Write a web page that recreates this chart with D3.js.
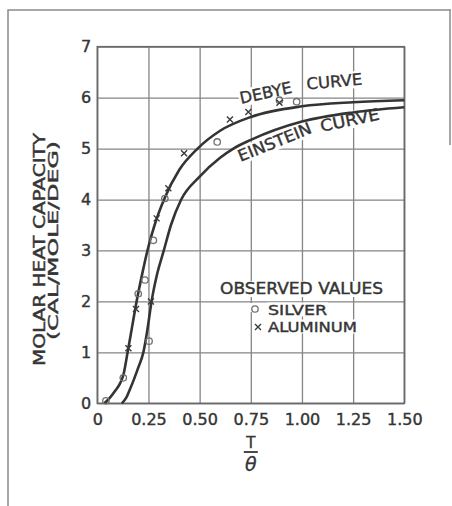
<!DOCTYPE html>
<html>
<head>
<meta charset="utf-8">
<script src="https://cdn.jsdelivr.net/npm/d3@7"></script>
<style>
  body { margin: 0; background: #fff; }
  text { font-family: "DejaVu Sans", sans-serif; fill: #353535; }
</style>
</head>
<body>
<script>
// Molar heat capacity vs T/theta, Debye and Einstein curves

// curves
var debyeT = [0.035, 0.06, 0.09, 0.11, 0.127, 0.148, 0.17, 0.192, 0.22, 0.245, 0.28, 0.326, 0.40, 0.49, 0.60, 0.75, 1.00, 1.25, 1.50];
var debyeC = [0.0, 0.1, 0.26, 0.38, 0.55, 1.0, 1.5, 2.0, 2.55, 3.0, 3.5, 4.0, 4.58, 5.0, 5.35, 5.62, 5.83, 5.91, 5.95];

var einsteinT = [0.12, 0.14, 0.16, 0.18, 0.20, 0.225, 0.245, 0.265, 0.29, 0.325, 0.36, 0.41, 0.50, 0.60, 0.665, 0.75, 1.00, 1.25, 1.50];
var einsteinC = [0.0, 0.1, 0.28, 0.48, 0.7, 1.0, 1.45, 2.0, 2.5, 3.0, 3.5, 4.0, 4.45, 4.82, 5.0, 5.17, 5.53, 5.71, 5.81];

// observed values
var silverT = [0.042, 0.127, 0.2, 0.233, 0.253, 0.274, 0.33, 0.586, 0.89, 0.974];
var silverC = [0.05, 0.5, 2.15, 2.42, 1.22, 3.2, 4.02, 5.13, 5.95, 5.92];

var aluminumT = [0.152, 0.189, 0.262, 0.29, 0.347, 0.424, 0.648, 0.738, 0.89];
var aluminumC = [1.08, 1.85, 2.0, 3.63, 4.22, 4.91, 5.57, 5.72, 5.9];

var xTicks = [0, 0.25, 0.5, 0.75, 1.0, 1.25, 1.5];
var xTickLabels = ['0', '0.25', '0.50', '0.75', '1.00', '1.25', '1.50'];
var yTicks = [0, 1, 2, 3, 4, 5, 6, 7];

var width = 452;
var height = 506;
var plotLeft = 97.3, plotRight = 404.3, plotTop = 46.7, plotBottom = 403.3;
var ink = '#353535';

var svg = d3.select('body').append('svg')
    .attr('width', width)
    .attr('height', height);

svg.append('rect').attr('width', width).attr('height', height).attr('fill', '#fff');

// page frame
var frame = svg.append('g').attr('stroke', '#8a8a8a').attr('stroke-width', 1.5).attr('fill', 'none');
frame.append('path').attr('d', 'M8,506 L8,10 L451,10');
frame.append('line').attr('x1', 450).attr('y1', 10).attr('x2', 450).attr('y2', 145);

var x = d3.scaleLinear().domain([0, 1.5]).range([plotLeft, plotRight]);
var y = d3.scaleLinear().domain([0, 7]).range([plotBottom, plotTop]);

var xAxis = svg.append('g')
    .attr('transform', 'translate(0,' + plotBottom + ')')
    .call(d3.axisBottom(x).tickValues(xTicks)
        .tickFormat(function(d, i){ return xTickLabels[i]; })
        .tickSize(-(plotBottom - plotTop)).tickPadding(10));

var yAxis = svg.append('g')
    .attr('transform', 'translate(' + plotLeft + ',0)')
    .call(d3.axisLeft(y).tickValues(yTicks)
        .tickFormat(d3.format('d'))
        .tickSize(-(plotRight - plotLeft)).tickPadding(6));

[xAxis, yAxis].forEach(function(ax){
    ax.select('.domain').remove();
    ax.selectAll('line').attr('stroke', '#858585').attr('stroke-width', 1.3);
    ax.selectAll('text')
        .style('font-family', '"DejaVu Sans", sans-serif')
        .style('font-size', '16px')
        .attr('fill', ink)
        .attr('stroke', ink)
        .attr('stroke-width', 0.4);
});

svg.append('rect')
    .attr('x', plotLeft).attr('y', plotTop)
    .attr('width', plotRight - plotLeft).attr('height', plotBottom - plotTop)
    .attr('fill', 'none')
    .attr('stroke', '#6a6a6a')
    .attr('stroke-width', 1.6);

// text with a white patch behind it, so the grid breaks like in the original
function patchText(g, txt, px, py, len, size, pad){
    var bg = g.append('rect').attr('fill', '#fff');
    var t = g.append('text')
        .attr('x', px).attr('y', py)
        .attr('textLength', len)
        .attr('lengthAdjust', 'spacingAndGlyphs')
        .style('font-size', size + 'px')
        .attr('stroke', ink).attr('stroke-width', 0.4)
        .text(txt);
    var b = t.node().getBBox();
    bg.attr('x', b.x - pad).attr('y', b.y + 2 - pad)
      .attr('width', b.width + 2 * pad).attr('height', b.height - 4 + 2 * pad);
    return t;
}

// curve labels
function label(txt, t, c, angle, len){
    var g = svg.append('g')
        .attr('transform', 'translate(' + x(t) + ',' + y(c) + ') rotate(' + angle + ')');
    patchText(g, txt, 0, 0, len, 16, 1);
}

label('DEBYE', 0.702, 5.88, -12, 53);
label('CURVE', 1.024, 6.16, -5, 56);
label('EINSTEIN', 0.70, 4.74, -22, 78);
label('CURVE', 1.096, 5.33, -12, 60);

// curves
var line = d3.line()
    .x(function(d){ return x(d[0]); })
    .y(function(d){ return y(d[1]); })
    .curve(d3.curveMonotoneX);

var curves = [d3.zip(debyeT, debyeC), d3.zip(einsteinT, einsteinC)];
svg.selectAll('path.curve').data(curves).enter().append('path')
    .attr('class', 'curve')
    .attr('d', line)
    .attr('fill', 'none')
    .attr('stroke', '#343434')
    .attr('stroke-width', 2.6);

// markers
function drawCircle(g, px, py){
    g.append('circle').attr('cx', px).attr('cy', py).attr('r', 3.2)
        .attr('fill', 'none').attr('stroke', '#707070').attr('stroke-width', 1.3);
}
function drawCross(g, px, py){
    var s = 3;
    g.append('path')
        .attr('d', 'M' + (px - s) + ',' + (py - s) + 'L' + (px + s) + ',' + (py + s) +
                   'M' + (px + s) + ',' + (py - s) + 'L' + (px - s) + ',' + (py + s))
        .attr('stroke', '#3a3a3a').attr('stroke-width', 1.4);
}

var marks = svg.append('g');
d3.zip(silverT, silverC).forEach(function(d){ drawCircle(marks, x(d[0]), y(d[1])); });
d3.zip(aluminumT, aluminumC).forEach(function(d){ drawCross(marks, x(d[0]), y(d[1])); });

// legend
var lg = svg.append('g');
patchText(lg, 'OBSERVED VALUES', 220, 294, 163, 15, 1);
patchText(lg, 'SILVER', 268, 314.5, 59, 14, 1);
patchText(lg, 'ALUMINUM', 268, 331.5, 89, 14, 1);
lg.append('rect').attr('x', 249).attr('y', 303).attr('width', 12).attr('height', 9).attr('fill', '#fff');
drawCircle(lg, 255, 309);
drawCross(lg, 258, 327);
</script>
<script>
// axis titles
var yl = svg.append('g');
yl.append('text')
    .attr('transform', 'translate(44.5,249.5) rotate(-90)')
    .attr('text-anchor', 'middle')
    .style('font-size', '15px')
    .attr('textLength', 233).attr('lengthAdjust', 'spacingAndGlyphs')
    .attr('stroke', ink).attr('stroke-width', 0.4)
    .text('MOLAR HEAT CAPACITY');
yl.append('text')
    .attr('transform', 'translate(58,240.5) rotate(-90)')
    .attr('text-anchor', 'middle')
    .style('font-size', '14px')
    .attr('textLength', 199).attr('lengthAdjust', 'spacingAndGlyphs')
    .attr('stroke', ink).attr('stroke-width', 0.4)
    .text('(CAL/MOLE/DEG)');

var xc = (plotLeft + plotRight) / 2;
svg.append('text').attr('x', xc).attr('y', 448).attr('text-anchor', 'middle')
    .style('font-size', '15px').attr('stroke', ink).attr('stroke-width', 0.4).text('T');
svg.append('line').attr('x1', xc - 7).attr('x2', xc + 7).attr('y1', 452).attr('y2', 452)
    .attr('stroke', ink).attr('stroke-width', 1.8);
svg.append('text').attr('x', xc).attr('y', 471).attr('text-anchor', 'middle')
    .style('font-size', '19px').style('font-style', 'italic').attr('stroke', ink).attr('stroke-width', 0.3).text('θ');
</script>
</body>
</html>
